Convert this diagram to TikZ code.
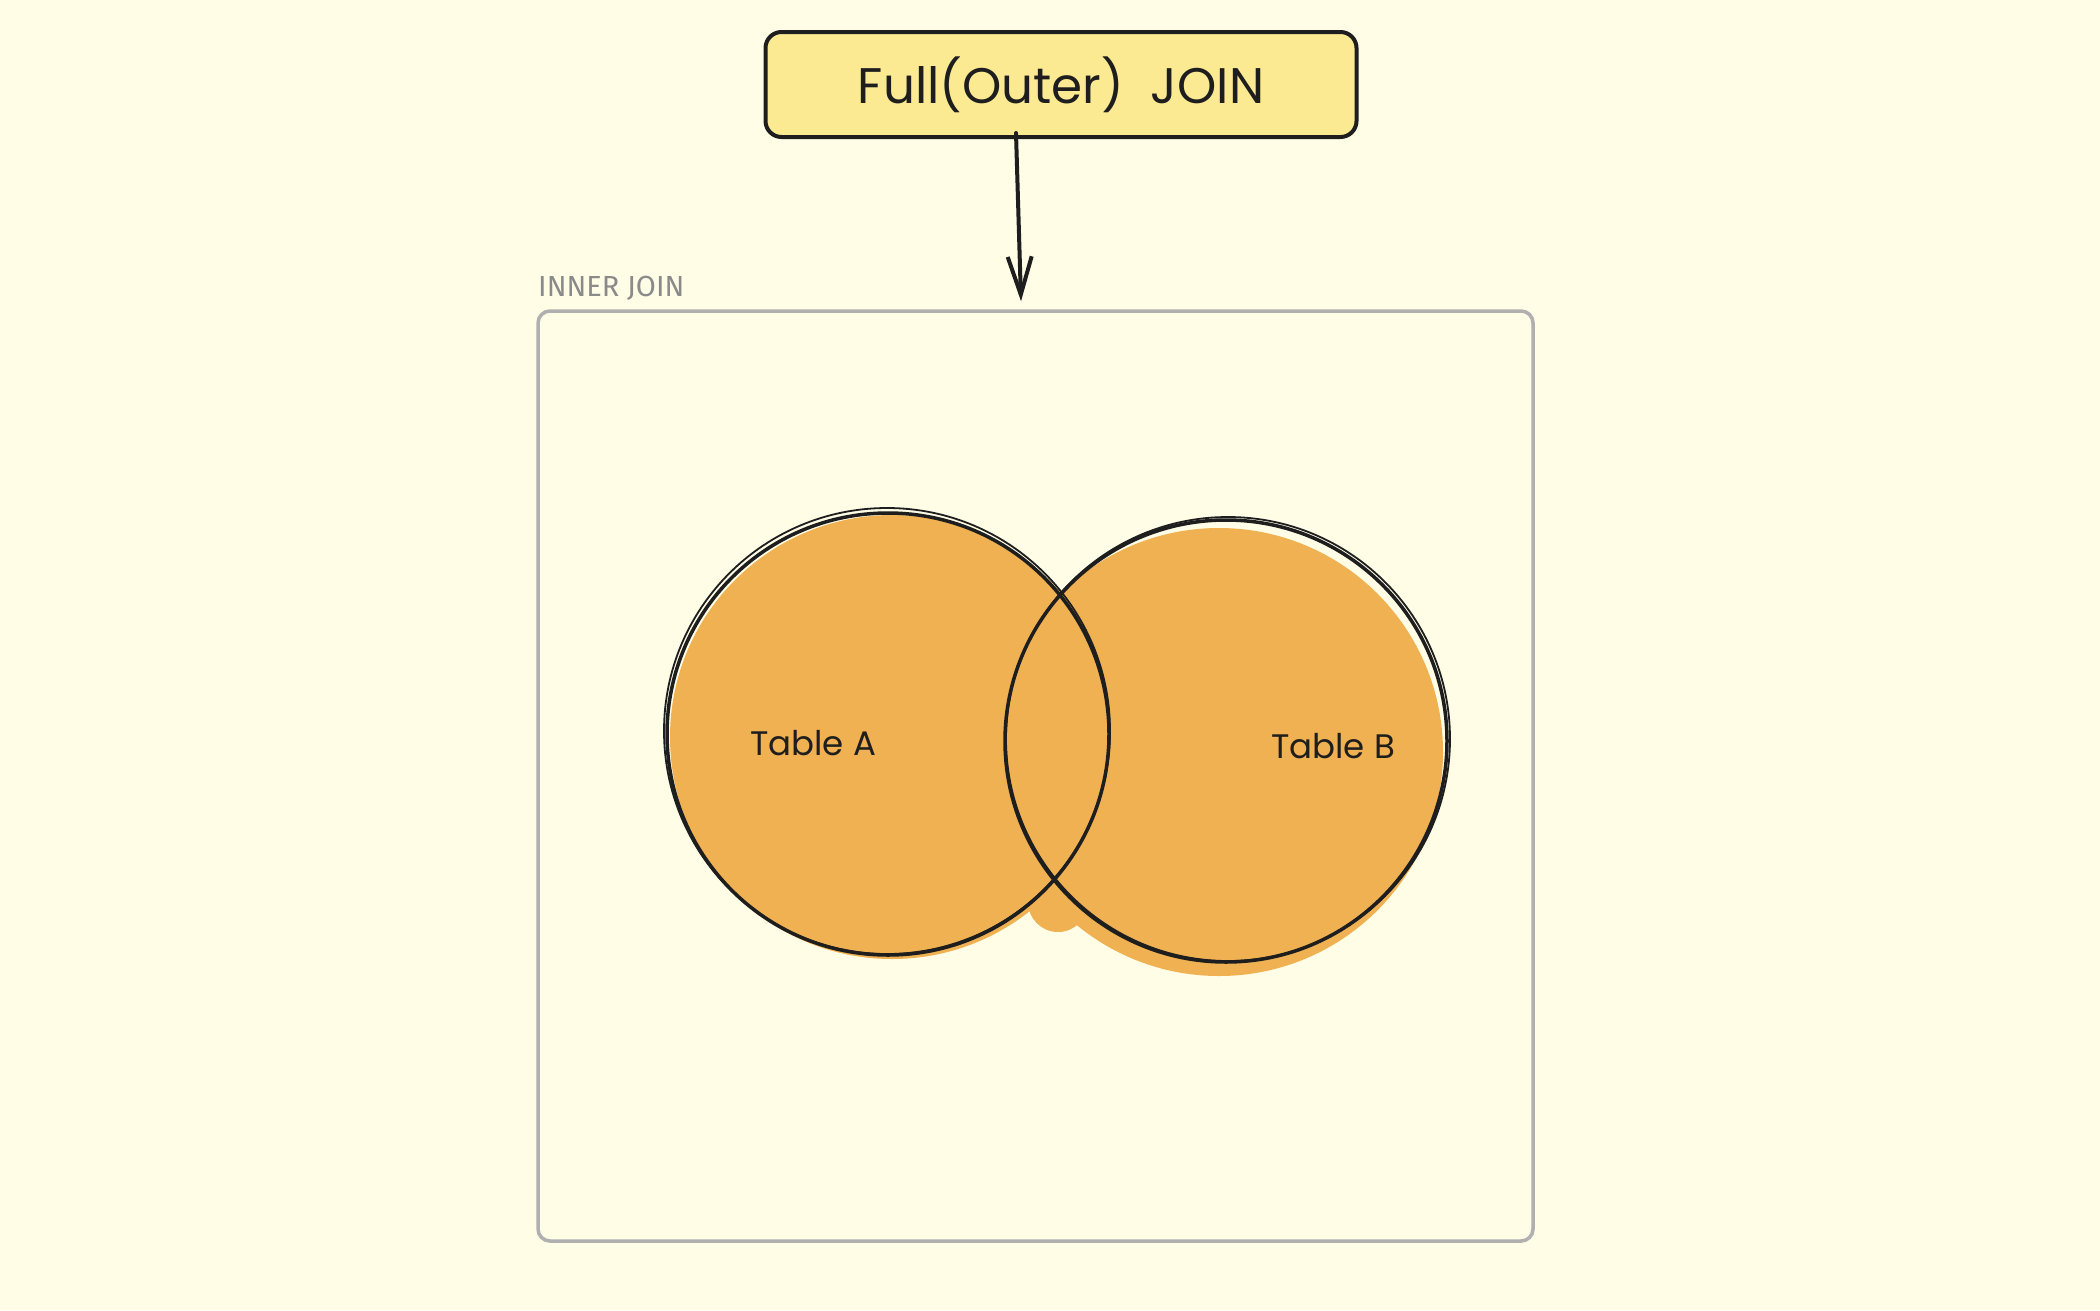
\documentclass[tikz,border=0pt]{standalone}
\usepackage{fontspec}
\setmainfont{Poppins}
\newfontfamily\labelfont{Fira Sans}
\usetikzlibrary{arrows.meta}
\definecolor{bg}{HTML}{FFFDE6}
\definecolor{ink}{HTML}{1E1E1E}
\definecolor{orangefill}{HTML}{EFB152}
\definecolor{titlefill}{HTML}{FCEA93}
\definecolor{framegray}{HTML}{B0B0B0}
\definecolor{labelgray}{HTML}{8A8A8A}
\tikzset{
  titlebox/.style={draw=ink, fill=titlefill, line width=4pt, rounded corners=16pt,
    minimum width=591pt, minimum height=105pt, inner sep=0pt,
    font=\fontsize{50}{56}\selectfont, text=ink},
  framebox/.style={draw=framegray, line width=3.5pt, rounded corners=12pt,
    minimum width=995pt, minimum height=930pt, inner sep=0pt},
  framelabel/.style={font=\labelfont\fontsize{29}{32}\selectfont, text=labelgray, inner sep=0pt},
  setcircle/.style={circle, draw=ink, line width=3.5pt, minimum size=442pt, inner sep=0pt},
  sketchline/.style={draw=ink, line width=1.8pt},
  tablelabel/.style={font=\fontsize{34}{38}\selectfont, text=ink, inner sep=0pt},
  connector/.style={draw=ink, line width=4pt, line cap=round,
    -{Straight Barb[length=38pt,width=24pt,line width=4pt]}},
}
\begin{document}
\begin{tikzpicture}[x=1pt,y=-1pt]
\fill[bg] (0,0) rectangle (2100,1310);
\useasboundingbox (0,0) rectangle (2100,1310);

% frame and label
\node[framebox] (frame) at (1035.5,776) {};
\node[framelabel, anchor=base west] (innerlbl) at (538,296) {INNER JOIN};

% sketchy fills
\fill[orangefill] (892,737) circle[radius=222];
\fill[orangefill] (1219,752) circle[radius=224];
\fill[orangefill] (1058,902) circle[radius=30];

% circle outlines
\node[setcircle] (A) at (888,734) {};
\node[setcircle] (B) at (1226,741) {};
\draw[sketchline] (887,731) circle[radius=223];
\draw[sketchline] (1228,739) circle[radius=222];

% labels
\node[tablelabel, anchor=base west] (la) at (750,755) {Table A};
\node[tablelabel, anchor=base west] (lb) at (1271,758) {Table B};

% title
\node[titlebox] (title) at (1061,84.5) {Full(Outer)\ \ JOIN};

% connector
\draw[connector] ([xshift=-45pt,yshift=6pt]title.south) -- ([xshift=-14.5pt,yshift=8pt]frame.north);
\end{tikzpicture}
\end{document}
